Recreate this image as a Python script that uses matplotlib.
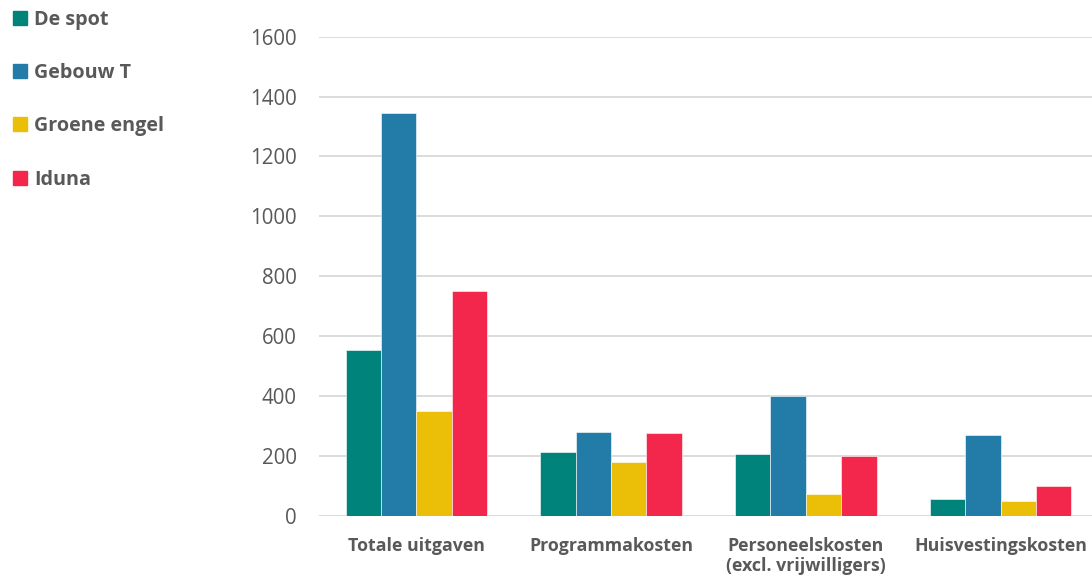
import numpy as np
import matplotlib.pyplot as plt
from matplotlib.patches import Patch

# data
categories = ['Totale uitgaven', 'Programmakosten', 'Personeelskosten\n(excl. vrijwilligers)', 'Huisvestingskosten']
series_names = ['De spot', 'Gebouw T', 'Groene engel', 'Iduna']
de_spot = [553, 213, 205, 57]
gebouw_t = [1345, 279, 400, 271]
groene_engel = [351, 180, 72, 48]
iduna = [749, 277, 198, 100]
colors = ['#00837A', '#237BA8', '#EBBE07', '#F2274B']

plt.rcParams['font.family'] = ['Open Sans', 'DejaVu Sans']
grey = '#595959'

fig = plt.figure(figsize=(10.92, 5.82), dpi=100)
ax = fig.add_axes([0.2921, 0.1139, 0.7134, 0.823])

x = np.arange(len(categories))
w = 0.1817
all_series = [de_spot, gebouw_t, groene_engel, iduna]
for i, vals in enumerate(all_series):
    ax.bar(x + (i - 1.5) * w, vals, width=w, color=colors[i],
           edgecolor='white', linewidth=0.4, zorder=3, label=series_names[i])

ax.set_xlim(-0.5, 3.5)
ax.set_ylim(0, 1600)
ax.set_yticks(range(0, 1601, 200))
ax.yaxis.grid(True, color='#d9d9d9', linewidth=1.3, zorder=0)
for s in ax.spines.values():
    s.set_visible(False)
ax.tick_params(axis='both', length=0)
ax.tick_params(axis='y', pad=16, labelsize=14.8, labelcolor=grey)
ax.set_xticks(x)
ax.set_xticklabels(categories, fontsize=12.8, fontweight='bold', color=grey)
ax.tick_params(axis='x', pad=15)

handles = [Patch(color=c) for c in colors]
leg = fig.legend(handles, series_names, loc='upper left', bbox_to_anchor=(-0.004, 1.014),
                 frameon=False, handlelength=0.7, handleheight=0.7, handletextpad=0.35,
                 labelspacing=1.69, prop={'size': 14.2, 'weight': 'bold'})
for t in leg.get_texts():
    t.set_color(grey)

fig.savefig('out.png', dpi=100)
